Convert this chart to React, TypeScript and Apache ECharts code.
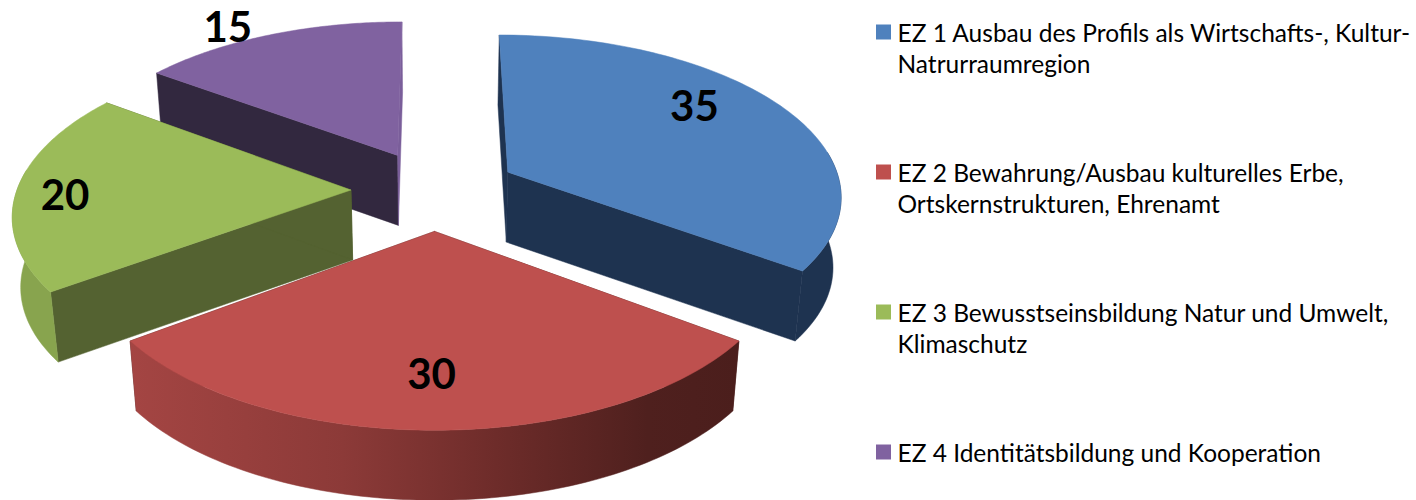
import React, { useEffect, useRef } from "react";
import * as echarts from "echarts";

const categories = [
  "EZ 1 Ausbau des Profils als Wirtschafts-, Kultur-\nNatrurraumregion",
  "EZ 2 Bewahrung/Ausbau kulturelles Erbe,\nOrtskernstrukturen, Ehrenamt",
  "EZ 3 Bewusstseinsbildung Natur und Umwelt,\nKlimaschutz",
  "EZ 4 Identitätsbildung und Kooperation",
];
const values = [35, 30, 20, 15];

const topColors = ["#4F81BD", "#BE504E", "#9BBB59", "#8062A0"];
const edgeColors = ["#1E3350", "#4B1E1C", "#546231", "#32283F"];
const rimColors = ["#1E3350", "#8C3A38", "#88A44E", "#7A5E9A"];
const drawOrder = [3, 0, 1, 2];
const legendCenters = [32, 172, 312, 452];
const labelRadius = [0.767, 0.742, 0.853, 1.14];
const labelTurn = [-9.7, 0.6, -1.5, -5];

const CX = 434.5, CY = 190, RX = 334, RY = 160, PERSP = 0.134, EXPLODE = 0.25;
const DEPTH = 70, SHRINK = 0.98, RIM_LIMIT = 0.13;
const FONT = "Lato, Carlito, sans-serif";

const project = (u: number, v: number) => {
  const s = 1 + PERSP * v;
  return [CX + (RX * u) / s, CY - (RY * v) / s];
};
const lower = (p: number[]) => [CX + (p[0] - CX) * SHRINK, p[1] + DEPTH];

const total = values.reduce((a, b) => a + b, 0);

function sliceChildren(i: number) {
  const before = values.slice(0, i).reduce((a, b) => a + b, 0);
  const a0 = (before / total) * 2 * Math.PI;
  const a1 = ((before + values[i]) / total) * 2 * Math.PI;
  const mid = (a0 + a1) / 2;
  const ox = EXPLODE * Math.sin(mid);
  const oy = EXPLODE * Math.cos(mid);
  const apex = project(ox, oy);
  const arc: number[][] = [];
  const front: number[][] = [];
  const steps = 90;
  for (let k = 0; k <= steps; k++) {
    const a = a0 + ((a1 - a0) * k) / steps;
    const p = project(ox + Math.sin(a), oy + Math.cos(a));
    arc.push(p);
    if (Math.cos(a) < RIM_LIMIT) front.push(p);
  }
  const first = arc[0];
  const last = arc[arc.length - 1];
  const rimFill =
    i === 1
      ? new echarts.graphic.LinearGradient(0, 0, 1, 0, [
          { offset: 0, color: "#A44543" },
          { offset: 0.35, color: "#8C3A38" },
          { offset: 0.6, color: "#6E2C2A" },
          { offset: 0.85, color: "#4F201E" },
          { offset: 1, color: "#4B1E1C" },
        ])
      : rimColors[i];
  const poly = (points: number[][], fill: any) => ({
    type: "polygon",
    shape: { points },
    style: { fill, stroke: fill, lineWidth: 0.5 },
  });
  const lowApex = lower(apex);
  const startWall = [apex, first, lower(first), lowApex];
  const endWall = [apex, last, lower(last), lowApex];
  const la = mid + (labelTurn[i] * Math.PI) / 180;
  const lp = project(ox + labelRadius[i] * Math.sin(la), oy + labelRadius[i] * Math.cos(la));
  const rim = front.length > 1 ? [poly([...front, ...front.map(lower).reverse()], rimFill)] : [];
  return [
    poly(startWall, edgeColors[i]),
    poly(endWall, i === 3 ? rimColors[3] : edgeColors[i]),
    ...rim,
    poly([apex, ...arc], topColors[i]),
    {
      type: "text",
      x: lp[0],
      y: lp[1],
      z2: 10,
      style: {
        text: String(values[i]),
        fill: "#000",
        font: `bold 42px ${FONT}`,
        align: "center",
        verticalAlign: "middle",
      },
    },
  ];
}

export default function App() {
  const ref = useRef<HTMLDivElement>(null);
  useEffect(() => {
    const chart = echarts.init(ref.current!, null, { renderer: "svg" });
    chart.setOption({
      animation: false,
      backgroundColor: "#fff",
      legend: categories.map((name, i) => {
        const twoLines = name.includes("\n");
        const lh = 31;
        return {
          data: [{ name, icon: "path://M0 0H15V15H0Z", itemStyle: { color: topColors[i] } }],
          orient: "vertical",
          left: 876,
          top: legendCenters[i] - (twoLines ? lh * 1.5 : lh * 0.5),
          padding: 0,
          itemWidth: 18,
          itemHeight: 15,
          selectedMode: false,
          formatter: (n: string) => (n.includes("\n") ? "\n" + n : n),
          textStyle: {
            fontFamily: FONT,
            fontSize: 24.5,
            color: "#000",
            lineHeight: lh,
          },
        };
      }),
      series: drawOrder.map((i) => ({
        type: "custom",
        name: categories[i],
        coordinateSystem: "none",
        silent: true,
        itemStyle: { color: topColors[i] },
        data: [values[i]],
        renderItem: () => ({ type: "group", children: sliceChildren(i) }),
      })),
    });
    return () => chart.dispose();
  }, []);
  return (
    <div
      ref={ref}
      style={{ position: "absolute", left: 0, top: 0, width: 1416, height: 500 }}
    />
  );
}
